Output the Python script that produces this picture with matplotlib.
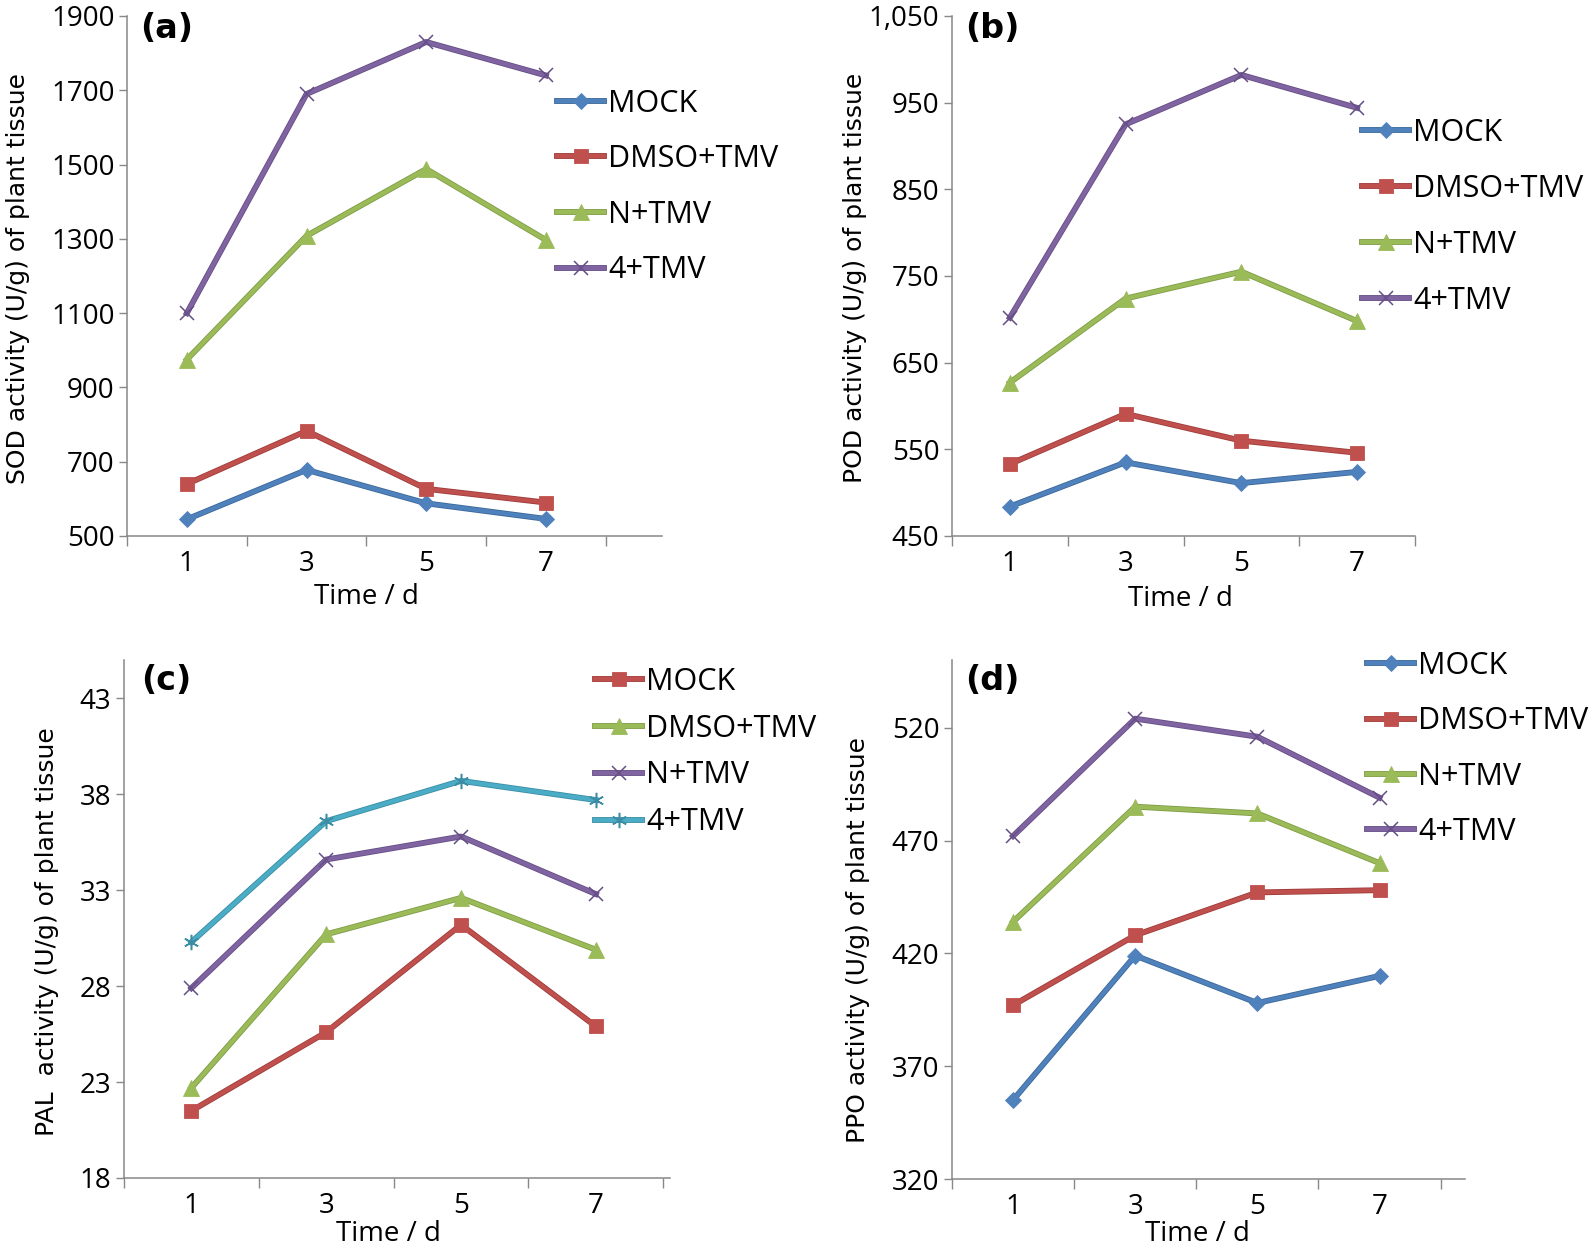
import matplotlib
matplotlib.use("Agg")
import matplotlib.pyplot as plt
import matplotlib.patheffects as pe
import numpy as np

days = ["1", "3", "5", "7"]

# (a) SOD
sod_mock = [545, 678, 588, 546]
sod_dmso = [640, 783, 627, 590]
sod_n = [975, 1308, 1488, 1297]
sod_4 = [1100, 1690, 1830, 1740]
# (b) POD
pod_mock = [484, 535, 511, 524]
pod_dmso = [533, 591, 560, 546]
pod_n = [627, 724, 755, 698]
pod_4 = [702, 925, 982, 944]
# (c) PAL
pal_mock = [21.5, 25.6, 31.2, 25.9]
pal_dmso = [22.7, 30.7, 32.6, 29.9]
pal_n = [27.9, 34.6, 35.8, 32.8]
pal_4 = [30.3, 36.6, 38.7, 37.7]
# (d) PPO
ppo_mock = [355, 419, 398, 410]
ppo_dmso = [397, 428, 447, 448]
ppo_n = [434, 485, 482, 460]
ppo_4 = [472, 524, 516, 489]

labels = ["MOCK", "DMSO+TMV", "N+TMV", "4+TMV"]

BLUE, RED, GREEN, PURPLE, CYAN = "#4F81BD", "#C0504D", "#9BBB59", "#8064A2", "#4BACC6"
EDGE = {BLUE: "#3C6897", RED: "#9E3C39", GREEN: "#7E9C45", PURPLE: "#654E85", CYAN: "#3A8DA4"}
STAR = (6, 2, 0)
STYLE_STD = [(BLUE, "D", 8), (RED, "s", 10.5), (GREEN, "^", 11.5), (PURPLE, "x", 10)]
STYLE_PAL = [(RED, "s", 10.5), (GREEN, "^", 11.5), (PURPLE, "x", 10), (CYAN, STAR, 11)]

W, H = 1594, 1249
fig = plt.figure(figsize=(W / 100, H / 100), dpi=100)
FONT = "Open Sans"


def rect(left, right, top, bottom):
    return [left / W, 1 - bottom / H, (right - left) / W, (bottom - top) / H]


def panel(r, series, styles, ylim, yticks, xmax, fmt, ylabel, tag, tag_xy,
          ylab_xy, xlab_xy, leg_xy, leg_space):
    ax = fig.add_axes(r)
    x = np.arange(len(days)) + 0.5
    handles = []
    for vals, (c, m, ms) in zip(series, styles):
        thin = m in ("x", STAR)
        ln, = ax.plot(x, vals, color=c, lw=3.0,
                      path_effects=[pe.Stroke(linewidth=4.2, foreground=EDGE[c]), pe.Normal()])
        mk, = ax.plot(x, vals, ls="none", marker=m, ms=ms, mfc=c,
                      mec=EDGE[c] if thin else c, mew=1.1 if thin else 0.6)
        handles.append((ln, mk))
    ax.set_xlim(0, xmax)
    ax.set_ylim(*ylim)
    ax.set_xticks(np.arange(0, len(days) + 1))
    ax.set_xticklabels([])
    ax.set_xticks(x, minor=True)
    ax.set_xticklabels(days, minor=True, fontsize=20, family=FONT)
    ax.tick_params(axis="x", which="minor", length=0, pad=10)
    ax.tick_params(axis="x", which="major", length=7, width=1, color="#888888", direction="out")
    ax.set_yticks(yticks)
    ax.set_yticklabels([fmt(v) for v in yticks], fontsize=20, family=FONT)
    ax.tick_params(axis="y", length=6, width=1, color="#888888", pad=3)
    for s in ("top", "right"):
        ax.spines[s].set_visible(False)
    for s in ("left", "bottom"):
        ax.spines[s].set_color("#888888")
        ax.spines[s].set_linewidth(1.1)
    ax.patch.set_alpha(0)

    fig.text(tag_xy[0] / W, 1 - tag_xy[1] / H, tag, fontsize=24, fontweight="bold",
             family="DejaVu Sans", ha="left", va="center")
    fig.text(ylab_xy[0] / W, 1 - ylab_xy[1] / H, ylabel, fontsize=18, family="DejaVu Sans",
             rotation=90, ha="center", va="center")
    fig.text(xlab_xy[0] / W, 1 - xlab_xy[1] / H, "Time / d", fontsize=20, family=FONT,
             ha="center", va="center")
    fig.legend(handles, labels, loc="center left",
               bbox_to_anchor=(leg_xy[0] / W, 1 - leg_xy[1] / H),
               frameon=False, borderpad=0, borderaxespad=0, handlelength=1.55,
               handletextpad=0.12, labelspacing=leg_space,
               prop={"family": FONT, "size": 22})
    return ax


plain = lambda v: f"{v:g}"

panel(rect(127, 662, 16, 536), [sod_mock, sod_dmso, sod_n, sod_4], STYLE_STD,
      (500, 1900), np.arange(500, 1901, 200), 4.47, plain,
      "SOD activity (U/g) of plant tissue", "(a)", (140, 28), (18, 278), (366, 597),
      (557, 187), 0.84)

panel(rect(952, 1415, 16, 536), [pod_mock, pod_dmso, pod_n, pod_4], STYLE_STD,
      (450, 1050), np.arange(450, 1051, 100), 4.0, lambda v: f"{v:,}",
      "POD activity (U/g) of plant tissue", "(b)", (965, 28), (855, 278), (1180, 599),
      (1362, 217), 0.85)

panel(rect(124, 670, 660, 1178), [pal_mock, pal_dmso, pal_n, pal_4], STYLE_PAL,
      (18, 45), np.arange(18, 44, 5), 4.05, plain,
      "PAL  activity (U/g) of plant tissue", "(c)", (141, 680), (47, 932), (388, 1234),
      (595, 752), 0.55)

panel(rect(952, 1465, 660, 1179), [ppo_mock, ppo_dmso, ppo_n, ppo_4], STYLE_STD,
      (320, 550), np.arange(320, 521, 50), 4.2, plain,
      "PPO activity (U/g) of plant tissue", "(d)", (965, 680), (858, 940), (1197, 1234),
      (1367, 749), 0.83)

fig.savefig("out.png", dpi=100, facecolor="white")
